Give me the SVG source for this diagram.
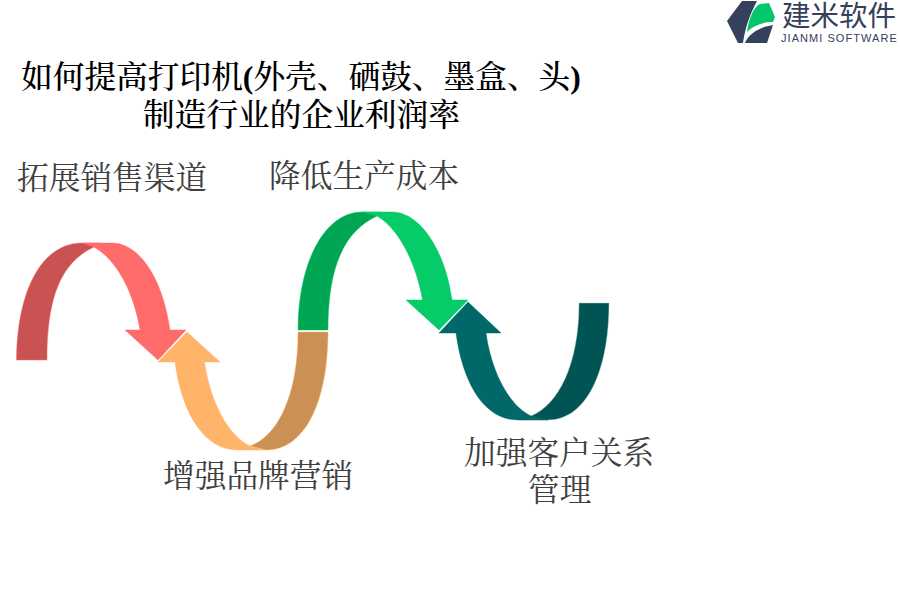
<svg xmlns="http://www.w3.org/2000/svg" width="900" height="600" viewBox="0 0 900 600">
<style>
text{font-family:"Liberation Serif","Noto Serif CJK SC",serif;}
.t{font-size:31.700px;fill:#000;font-weight:500}
.b{font-weight:700}
.l{font-size:31.700px;fill:#404040;font-weight:400}
.s{stroke-width:1;stroke-opacity:.45}
.logo{font-family:"Liberation Sans","Noto Sans CJK SC",sans-serif;font-size:28.500px;fill:#35405c;font-weight:400}
.logo2{font-family:"Liberation Sans",sans-serif;font-size:11px;fill:#35405c;letter-spacing:1.050px}
</style>
<rect width="900" height="600" fill="#fff"/>
<g id="logo">
<path d="M742 1L757 1C750 14 745 28 743 43L738 43L727 21Z" fill="#35405c"/>
<path d="M747 32C749 16 755 6 760 4L769 3L775 17L773 22C762 22 753 26 747 32Z" fill="#05c56d"/>
<path d="M745 43C749 33 760 27 773 25L767 43Z" fill="#35405c"/>
<text class="logo" x="782" y="26">建米软件</text>
<text class="logo2" x="781" y="42">JIANMI SOFTWARE</text>
</g>
<g id="title">
<text class="t" x="21" y="88">如何提高打印机<tspan class="b">(</tspan>外壳、硒鼓、墨盒、头<tspan class="b">)</tspan></text>
<text class="t" x="143" y="126">制造行业的企业利润率</text>
</g>
<g id="connectors">
<path class="s" fill="#c95252" stroke="#ff6b6b" d="M16.500 360C17 290 42 243 82 243L100 243L94 247C62 262 47 295 47 360Z"/>
<path class="s" fill="#ff6b6b" stroke="#ff6b6b" d="M82 243L112 243C140 243 163 280 170 330L186 330L158 360L125 330L140 330C134 293 117 260 94 247Z"/>
<path class="s" fill="#cb9053" stroke="#ffb46a" d="M298 332L328 332C328 400 306 450 266 450L250 446C278 436 298 395 298 332Z"/>
<path class="s" fill="#ffb46a" stroke="#ffb46a" d="M266 450L238 450C205 450 182 415 175 362L158 362L187 332L220 362L204.500 362C210 400 227 435 250 446Z"/>
<path class="s" fill="#00a653" stroke="#05cc68" d="M298 330C298 262 325 212 362 212L382 212L377 216C345 231 328 265 328 330Z"/>
<path class="s" fill="#05cc68" stroke="#05cc68" d="M362 212L392 212C420 212 445 250 452 300L468 300L439 330L406 300L422.500 300C416 262 398 228 377 216Z"/>
<path class="s" fill="#005454" stroke="#a8d0d0" d="M579 303L609 303C609 372 586 420 548 420L520 420L531 416C558 405 579 365 579 303Z"/>
<path class="s" fill="#006868" stroke="#006868" d="M548 420L518 420C485 420 463 385 456 333L439 333L468 302L501 333L486 333C491 370 508 405 531 416Z"/>
</g>
<g id="n1"><text class="l" x="17" y="189">拓展销售渠道</text></g>
<g id="n2"><text class="l" x="269" y="187">降低生产成本</text></g>
<g id="n3"><text class="l" x="163" y="487">增强品牌营销</text></g>
<g id="n4"><text class="l" x="464" y="464">加强客户关系</text><text class="l" x="528" y="501">管理</text></g>
</svg>
